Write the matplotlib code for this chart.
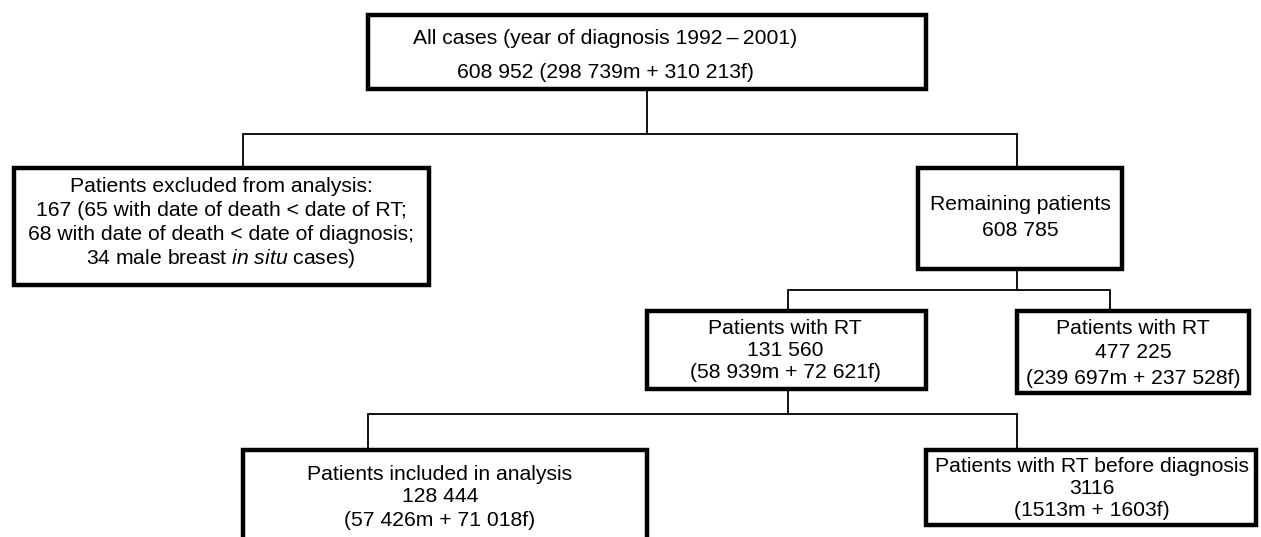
import matplotlib.pyplot as plt
from matplotlib.patches import Rectangle

plt.rcParams["font.family"] = ["Liberation Sans", "DejaVu Sans"]
plt.rcParams["mathtext.fontset"] = "custom"
plt.rcParams["mathtext.rm"] = "Liberation Sans"
plt.rcParams["mathtext.it"] = "Liberation Sans:italic"

# Box texts (one list of lines per box)
all_cases = ["All cases (year of diagnosis 1992\u2009\u2013\u20092001)",
             "608 952 (298 739m + 310 213f)"]
excluded = ["Patients excluded from analysis:",
            "167 (65 with date of death < date of RT;",
            "68 with date of death < date of diagnosis;",
            r"34 male breast $\mathit{in\ situ}$ cases)"]
remaining = ["Remaining patients", "608 785"]
with_rt = ["Patients with RT", "131 560", "(58 939m + 72 621f)"]
without_rt = ["Patients with RT", "477 225", "(239 697m + 237 528f)"]
included = ["Patients included in analysis", "128 444", "(57 426m + 71 018f)"]
rt_before = ["Patients with RT before diagnosis", "3116", "(1513m + 1603f)"]

# Layout in pixel coordinates: (x0, y0, x1, y1), text centre x, line y positions
boxes = [
    (all_cases, (368, 15, 926, 89), 605, [39, 73]),
    (excluded, (14, 168, 429, 285), 221, [186, 210, 234, 259]),
    (remaining, (918, 168, 1122, 269), 1020, [204, 230]),
    (with_rt, (647, 311, 926, 389), 785, [328, 350, 372]),
    (without_rt, (1017, 311, 1249, 393), 1133, [329, 353, 378]),
    (included, (243, 450, 647, 548), 440, [474, 496, 520]),
    (rt_before, (926, 450, 1256, 525), 1092, [467, 489, 511]),
]

# Connector polylines
connectors = [
    [(647, 89), (647, 134)],
    [(243, 168), (243, 134), (1017, 134), (1017, 168)],
    [(1017, 269), (1017, 290)],
    [(788, 311), (788, 290), (1110, 290), (1110, 311)],
    [(788, 389), (788, 414)],
    [(368, 450), (368, 414), (1017, 414), (1017, 450)],
]

fig = plt.figure(figsize=(12.61, 5.37), dpi=100)
ax = fig.add_axes([0, 0, 1, 1])
ax.set_xlim(0, 1261)
ax.set_ylim(537, 0)
ax.axis("off")

for pts in connectors:
    xs = [p[0] for p in pts]
    ys = [p[1] for p in pts]
    ax.plot(xs, ys, color="black", lw=1.3, solid_joinstyle="miter", zorder=1)

for lines, (x0, y0, x1, y1), cx, ys in boxes:
    ax.add_patch(Rectangle((x0, y0), x1 - x0, y1 - y0, facecolor="white",
                           edgecolor="black", lw=3.2, joinstyle="miter", zorder=2))
    for line, y in zip(lines, ys):
        ax.text(cx, y, line, ha="center", va="center", fontsize=15.2, zorder=3)

fig.savefig("out.png", dpi=100)
